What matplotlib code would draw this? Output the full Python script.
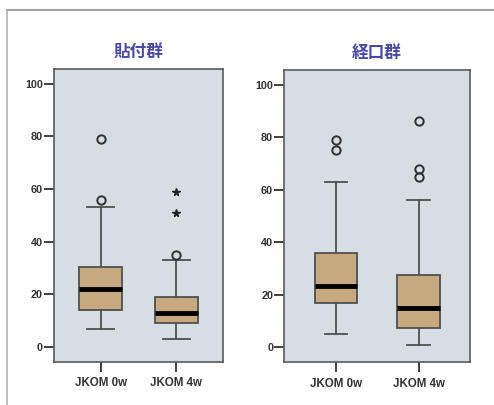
import matplotlib
matplotlib.use("Agg")
import matplotlib.pyplot as plt
from matplotlib.lines import Line2D

plt.rcParams['font.family'] = ['Noto Sans CJK JP', 'DejaVu Sans']

categories = ["JKOM 0w", "JKOM 4w"]
titles = ["貼付群", "経口群"]

# per panel, per category: whislo, q1, median, q3, whishi
whislo = [[7, 3], [5, 1]]
q1 = [[13.9, 9], [17, 7.5]]
med = [[22, 13], [23.5, 15]]
q3 = [[30.5, 19], [36, 27.5]]
whishi = [[53, 33], [63, 56]]
outliers = [[[56, 79], [35]], [[75, 79], [65, 68, 86]]]
extremes = [[[], [51, 59]], [[], []]]

yticks = [0, 20, 40, 60, 80, 100]

fig = plt.figure(figsize=(4.94, 4.05), dpi=100)
fig.patch.set_facecolor('white')

axes_pos = [[0.1093, 0.1062, 0.342, 0.7235], [0.5755, 0.1054, 0.3759, 0.7217]]
capw = [0.36, 0.27]
boxw = [0.57, 0.51]

edge = '#505050'
for p in range(2):
    ax = fig.add_axes(axes_pos[p])
    ax.set_facecolor('#d6dee4')
    stats = []
    for c in range(2):
        stats.append(dict(whislo=whislo[p][c], q1=q1[p][c], med=med[p][c],
                          q3=q3[p][c], whishi=whishi[p][c],
                          fliers=outliers[p][c], label=categories[c]))
    ax.bxp(stats, positions=[1, 2], widths=boxw[p], patch_artist=True,
           capwidths=capw[p],
           boxprops=dict(facecolor='#c6a97e', edgecolor=edge, linewidth=1.3),
           whiskerprops=dict(color=edge, linewidth=1.3),
           capprops=dict(color=edge, linewidth=1.3),
           medianprops=dict(color='black', linewidth=3.5, solid_capstyle='butt'),
           flierprops=dict(marker='o', markerfacecolor='none', markeredgecolor='#303030',
                           markersize=6, markeredgewidth=1.4))
    for c in range(2):
        if extremes[p][c]:
            ax.plot([c + 1] * len(extremes[p][c]), extremes[p][c], linestyle='none',
                    marker='*', color='#202020', markersize=5.5)
    ax.set_xlim(0.38, 2.62)
    ax.set_ylim(-5.7, 105.6)
    ax.set_yticks(yticks)
    ax.set_yticklabels([str(v) for v in yticks], family='Liberation Sans',
                       fontweight='bold', fontsize=7.8, color='#333333')
    ax.set_xticks([1, 2])
    ax.set_xticklabels(categories, family='Liberation Sans', fontweight='bold',
                       fontsize=8.3, color='#333333')
    ax.tick_params(axis='both', direction='out', length=7, width=1.4, color='#404040')
    ax.tick_params(axis='y', pad=1)
    ax.tick_params(axis='x', pad=4)
    for s in ax.spines.values():
        s.set_color('#5a5a5a')
        s.set_linewidth(1.2)
    ax.set_title(titles[p], color='#4848a8', fontsize=12, fontweight='bold', pad=9)

# outer frame lines
fig.add_artist(Line2D([7 / 494, 1.0], [1 - 10 / 405, 1 - 10 / 405], color='#a0a0a0', linewidth=1.5))
fig.add_artist(Line2D([7 / 494, 7 / 494], [0, 1 - 10 / 405], color='#b0b0b0', linewidth=1.2))

fig.savefig("out.png", dpi=100, facecolor='white')
